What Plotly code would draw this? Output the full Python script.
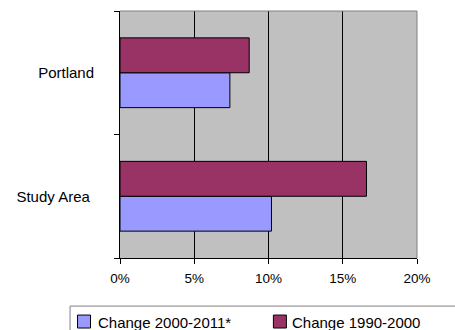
import plotly.graph_objects as go

categories = ["Study Area", "Portland"]
category_labels = ["Study Area\u00a0", "Portland"]
series_names = ["Change 2000-2011*", "Change 1990-2000"]
change_2000_2011 = [10.2, 7.4]
change_1990_2000 = [16.6, 8.7]
x_ticks = [0, 5, 10, 15, 20]
x_tick_labels = ["0%", "5%", "10%", "15%", "20%"]
colors = ["#9999FF", "#993366"]

FONT = "Liberation Sans, Arial, sans-serif"
W, H = 455, 330
L, R, T, B = 119.5, 38.3, 10.7, 71.7
PW, PH = W - L - R, H - T - B


def px(x):
    return (x - L) / PW


def py(y):
    return (H - B - y) / PH


fig = go.Figure()
for name, vals, col in zip(series_names, [change_2000_2011, change_1990_2000], colors):
    fig.add_trace(go.Bar(
        y=categories, x=vals, orientation="h", name=name,
        marker=dict(color=col, line=dict(color="#000000", width=1)),
    ))

shapes = [
    dict(type="line", xref="paper", yref="paper", x0=0, x1=1, y0=1, y1=1,
         line=dict(color="#808080", width=1), layer="above"),
    dict(type="line", xref="paper", yref="paper", x0=1, x1=1, y0=0, y1=1,
         line=dict(color="#808080", width=1), layer="above"),
    # legend box (extends past the right/bottom edge as in the reference)
    dict(type="rect", xref="paper", yref="paper",
         x0=px(69.5), x1=px(475), y0=py(306.5), y1=py(345),
         line=dict(color="#808080", width=1), fillcolor="white", layer="above"),
]
annotations = []
legend_sym_x = [77, 273]
legend_txt_x = [95, 289.5]
for name, col, sx, tx in zip(series_names, colors, legend_sym_x, legend_txt_x):
    shapes.append(dict(type="rect", xref="paper", yref="paper",
                       x0=px(sx), x1=px(sx + 13), y0=py(315.5), y1=py(328.5),
                       line=dict(color="#000000", width=1), fillcolor=col, layer="above"))
    annotations.append(dict(xref="paper", yref="paper", x=px(tx), y=py(322.5),
                            xanchor="left", yanchor="middle", showarrow=False,
                            text=name, font=dict(family=FONT, size=15, color="black")))

fig.update_layout(
    width=W, height=H,
    margin=dict(l=L, r=R, t=T, b=B, autoexpand=False),
    paper_bgcolor="white",
    plot_bgcolor="#C0C0C0",
    barmode="group", bargap=0.435, bargroupgap=0,
    font=dict(family=FONT, size=13, color="black"),
    showlegend=False,
    xaxis=dict(
        range=[0, 20], tickvals=x_ticks, ticktext=x_tick_labels,
        tickfont=dict(size=13.5),
        showgrid=True, gridcolor="black", gridwidth=1,
        showline=True, linecolor="black", linewidth=1,
        ticks="outside", ticklen=5, tickcolor="black",
        ticklabelstandoff=3,
        zeroline=False, fixedrange=True,
    ),
    yaxis=dict(
        type="category", categoryorder="array", categoryarray=categories,
        tickvals=categories, ticktext=category_labels,
        tickfont=dict(size=15),
        tickson="boundaries", showgrid=False,
        showline=True, linecolor="black", linewidth=1,
        ticks="outside", ticklen=5, tickcolor="black",
        ticklabelstandoff=22, fixedrange=True,
    ),
    shapes=shapes,
    annotations=annotations,
)

fig.write_html("out.html")
